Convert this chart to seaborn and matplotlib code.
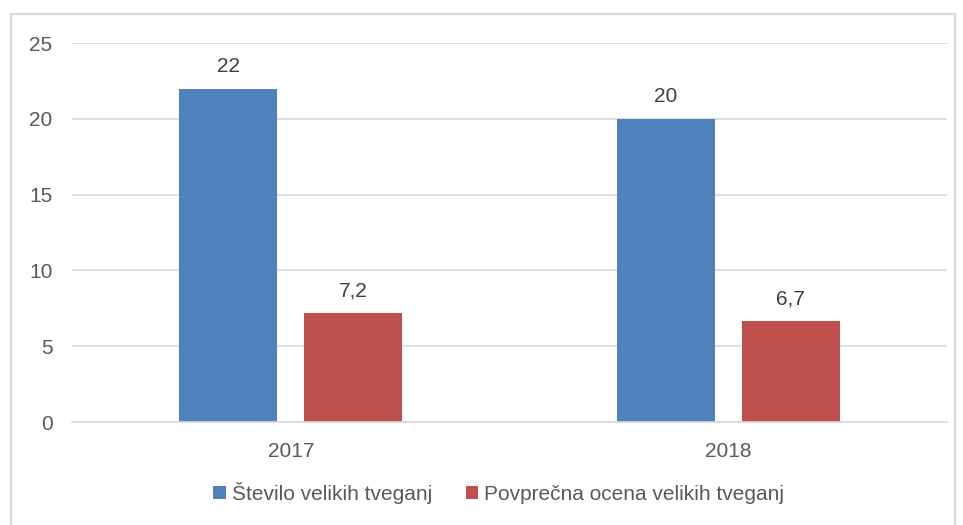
import pandas as pd
import matplotlib.pyplot as plt
import seaborn as sns
from matplotlib.patches import Rectangle, Patch

# Podatki
leta = ['2017', '2018']
stevilo = [22, 20]
ocena = [7.2, 6.7]
serije = ['Število velikih tveganj', 'Povprečna ocena velikih tveganj']
barve = ['#4F81BD', '#C0504D']

df = pd.DataFrame({'Leto': leta, serije[0]: stevilo, serije[1]: ocena})
df = df.melt(id_vars='Leto', var_name='Serija', value_name='Vrednost')

sns.set_style('white')
plt.rcParams['font.family'] = ['Liberation Sans', 'DejaVu Sans']
siva = '#595959'
fs = 15

fig = plt.figure(figsize=(9.63, 5.25), dpi=100)
ax = fig.add_axes([0.0748, 0.196, 0.9086, 0.722])

sns.barplot(data=df, x='Leto', y='Vrednost', hue='Serija', palette=barve,
            width=0.571, gap=0.216, ax=ax, legend=False, saturation=1,
            linewidth=0, edgecolor='none')

for cont in ax.containers:
    ax.bar_label(cont, labels=[f'{v:g}'.replace('.', ',') for v in cont.datavalues],
                 padding=9, fontsize=fs, color='#404040')

ax.set_ylim(0, 25)
ax.set_yticks(range(0, 26, 5))
ax.set_xlim(-0.5, 1.5)
ax.yaxis.grid(True, color='#D9D9D9', lw=1.2)
ax.set_axisbelow(True)
for s in ['top', 'right', 'left']:
    ax.spines[s].set_visible(False)
ax.spines['bottom'].set_color('#D9D9D9')
ax.spines['bottom'].set_linewidth(1.2)
ax.tick_params(axis='both', length=0, labelsize=fs, labelcolor=siva)
ax.tick_params(axis='y', pad=14)
ax.tick_params(axis='x', pad=14)
ax.set_xlabel('')
ax.set_ylabel('')

# Legenda
handles = [Patch(facecolor=c, edgecolor='none') for c in barve]
fig.legend(handles, serije, loc='center', bbox_to_anchor=(0.518, 0.061), ncol=2,
           frameon=False, fontsize=fs, labelcolor=siva, handlelength=0.6,
           handleheight=0.6, handletextpad=0.3, columnspacing=1.6)

# Okvir
fig.patches.append(Rectangle((11 / 963, -0.01), (955 - 11) / 963, 1 - 14 / 525 + 0.01,
                             transform=fig.transFigure, fill=False,
                             edgecolor='#D9D9D9', lw=1.5))

plt.savefig('out.png', dpi=100)
